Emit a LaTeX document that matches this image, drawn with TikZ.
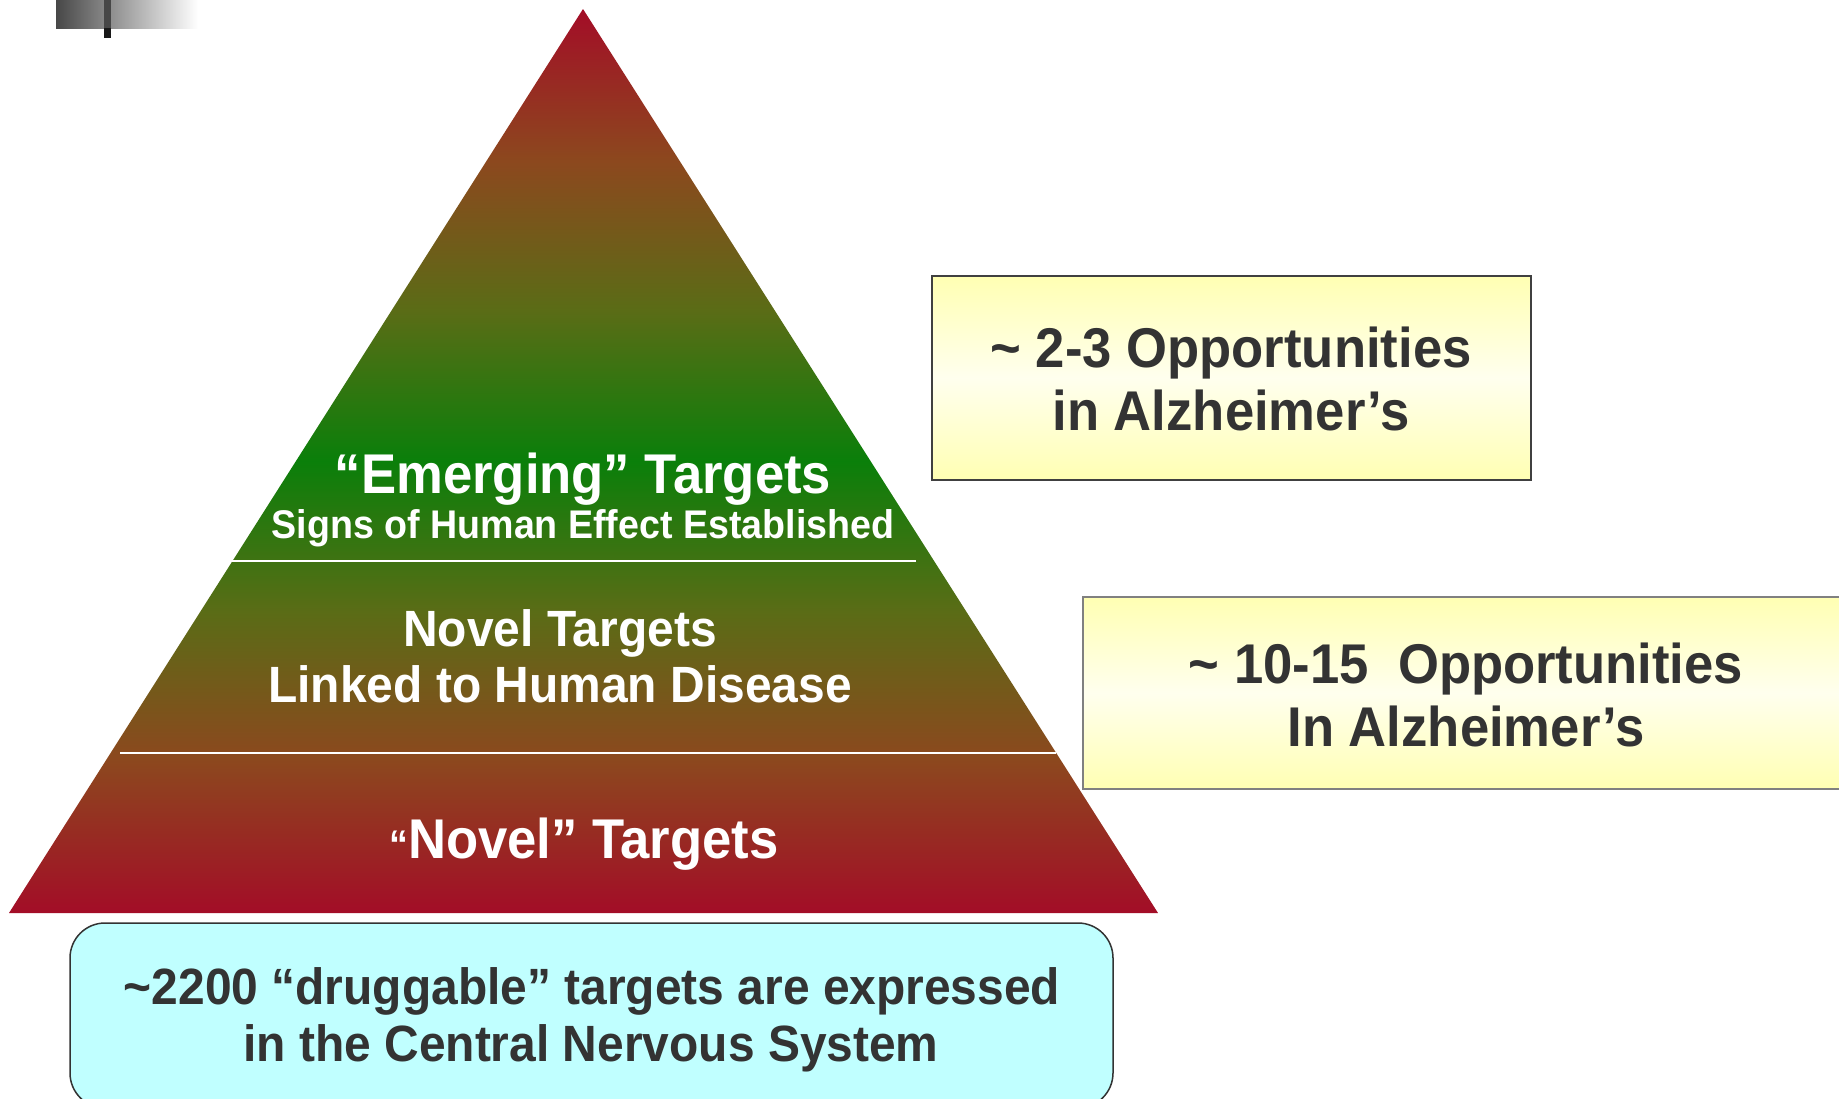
\documentclass[tikz,border=0pt]{standalone}
\usepackage{fontspec}
\setmainfont{Liberation Sans}[FakeStretch=0.94]
\definecolor{pyrred}{HTML}{A30D27}
\definecolor{pyrbrown}{HTML}{8C481E}
\definecolor{pyrolive}{HTML}{5A6C16}
\definecolor{pyrgreen}{HTML}{0A7F0A}
\definecolor{oppyellow}{HTML}{FFFFB3}
\definecolor{oppwhite}{HTML}{FFFFEE}
\definecolor{cnscyan}{HTML}{C0FFFF}
\definecolor{txtgray}{HTML}{333333}
\pgfdeclareverticalshading{pyramid}{100bp}{color(0bp)=(pyrred); color(25bp)=(pyrred);
  color(33.5bp)=(pyrbrown); color(41.7bp)=(pyrolive); color(50bp)=(pyrgreen);
  color(58.3bp)=(pyrolive); color(66.6bp)=(pyrbrown); color(75bp)=(pyrred); color(100bp)=(pyrred)}

\begin{document}
\begin{tikzpicture}[x=1pt,y=-1pt,
  whitebig/.style={text=white, font=\fontsize{56}{64}\selectfont\bfseries},
  whitemid/.style={text=white, font=\fontsize{51}{58}\selectfont\bfseries},
  whitesmall/.style={text=white, font=\fontsize{40}{46}\selectfont\bfseries},
  darkbig/.style={text=txtgray, font=\fontsize{56}{64}\selectfont\bfseries},
  darkmid/.style={text=txtgray, font=\fontsize{51}{58}\selectfont\bfseries},
  oppbox/.style={draw, top color=oppyellow, bottom color=oppyellow, middle color=oppwhite}]
\useasboundingbox (0,0) rectangle (1839,1098);

\shade[left color=black!72, right color=white] (56,0) rectangle (198,28);
\fill[black!90] (104,0) rectangle (111,38);
\fill[black!72] (104,0) rectangle (111,28);

\shade[shading=pyramid] (583,9) -- (9,913) -- (1158,913) -- cycle;
\draw[white, line width=2] (232,561) -- (916,561);
\draw[white, line width=2] (120,753) -- (1056,753);

\node[whitebig, anchor=base] (emerging) at (583,493) {“Emerging” Targets};
\node[whitesmall, anchor=base] (signs) at (583,538) {Signs of Human Effect Established};
\node[whitemid, anchor=base] (novel) at (560,646) {Novel Targets};
\node[whitemid, anchor=base] (linked) at (560,702) {Linked to Human Disease};
\node[whitebig, anchor=base] (novelq) at (584,858) {{\fontsize{40}{40}\selectfont “}Novel” Targets};

\path[oppbox, draw=black!75, line width=1.5] (932,276) rectangle (1531,480);
\node[darkbig, anchor=base] (opp1a) at (1231,367) {\textasciitilde\ 2-3 Opportunities};
\node[darkbig, anchor=base] (opp1b) at (1231,430) {in Alzheimer’s};

\path[oppbox, draw=black!50, line width=2] (1083,597) rectangle (1850,789);
\node[darkbig, anchor=base] (opp2a) at (1466,683) {\textasciitilde\ 10-15\ \ Opportunities};
\node[darkbig, anchor=base] (opp2b) at (1466,746) {In Alzheimer’s};

\draw[fill=cnscyan, draw=black!80, line width=1.5, rounded corners=35] (70,923) rectangle (1113,1108);
\node[darkmid, anchor=base] (cns1) at (592,1004) {\textasciitilde2200 “druggable” targets are expressed};
\node[darkmid, anchor=base] (cns2) at (591,1061) {in the Central Nervous System};
\end{tikzpicture}
\end{document}
